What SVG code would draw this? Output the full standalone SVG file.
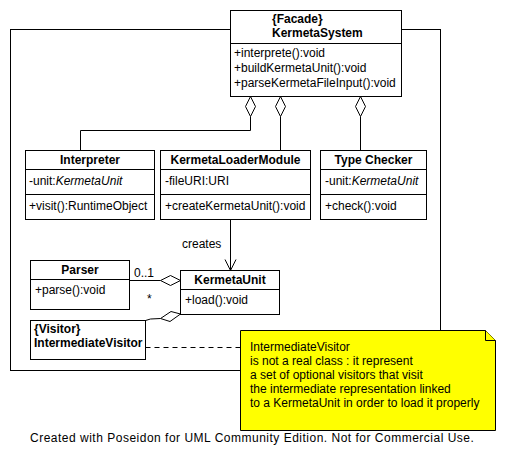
<svg xmlns="http://www.w3.org/2000/svg" width="506" height="461" viewBox="0 0 506 461">
<style>
text{font-family:"Liberation Sans",Arial,sans-serif;font-size:12px;fill:#000}
.b{font-weight:bold}
.c{text-anchor:middle}
.i{font-style:italic}
.box{fill:#fff;stroke:#000;stroke-width:1}
.ln{fill:none;stroke:#000;stroke-width:1}
.dia{fill:#fff;stroke:#000;stroke-width:1}
</style>
<rect width="506" height="461" fill="#fff"/>
<rect x="10.5" y="29.5" width="430" height="341" class="ln"/>
<g id="connectors">
<polyline class="ln" points="250.5,116.5 250.5,130.5 80.5,130.5 80.5,150.5"/>
<polygon class="dia" points="250.5,96.5 255.5,106.5 250.5,116.5 245.5,106.5"/>
<line class="ln" x1="280.5" y1="116.5" x2="280.5" y2="150.5"/>
<polygon class="dia" points="280.5,96.5 285.5,106.5 280.5,116.5 275.5,106.5"/>
<line class="ln" x1="360.5" y1="116.5" x2="360.5" y2="150.5"/>
<polygon class="dia" points="360.5,96.5 365.5,106.5 360.5,116.5 355.5,106.5"/>
<line class="ln" x1="230.5" y1="219.5" x2="230.5" y2="270.5"/>
<polyline class="ln" points="225,259.5 230.5,270.5 236,259.5"/>
<text x="182" y="248">creates</text>
<line class="ln" x1="129.5" y1="280.5" x2="160.5" y2="280.5"/>
<polygon class="dia" points="160.5,280.5 170.5,275.5 180.5,280.5 170.5,285.5"/>
<text x="134" y="277">0..1</text>
<text x="147" y="303">*</text>
<polyline class="ln" points="145.5,320.5 150.5,319 160.5,318.5"/>
<polygon class="dia" points="160.5,318.5 171,311.5 180.5,314 170,321.5"/>
<line class="ln" x1="145.5" y1="347.5" x2="240.5" y2="347.5" stroke-dasharray="5,4"/>
</g>
<g id="KermetaSystem">
<rect class="box" x="230.5" y="10.5" width="171" height="86"/>
<line class="ln" x1="230.5" y1="43.5" x2="401.5" y2="43.5"/>
<text class="b" x="272" y="23">{Facade}</text>
<text class="b" x="272" y="37">KermetaSystem</text>
<text x="234" y="57">+interprete():void</text>
<text x="234" y="72">+buildKermetaUnit():void</text>
<text x="234" y="87">+parseKermetaFileInput():void</text>
</g>
<g id="Interpreter">
<rect class="box" x="25.5" y="150.5" width="129" height="69"/>
<line class="ln" x1="25.5" y1="169.5" x2="154.5" y2="169.5"/>
<line class="ln" x1="25.5" y1="194.5" x2="154.5" y2="194.5"/>
<text class="b c" x="90" y="164">Interpreter</text>
<text x="29" y="185">-unit:<tspan class="i">KermetaUnit</tspan></text>
<text x="29" y="210">+visit():RuntimeObject</text>
</g>
<g id="KermetaLoaderModule">
<rect class="box" x="160.5" y="150.5" width="150" height="69"/>
<line class="ln" x1="160.5" y1="169.5" x2="310.5" y2="169.5"/>
<line class="ln" x1="160.5" y1="194.5" x2="310.5" y2="194.5"/>
<text class="b c" x="235.5" y="164">KermetaLoaderModule</text>
<text x="165" y="185">-fileURI:URI</text>
<text x="165" y="210">+createKermetaUnit():void</text>
</g>
<g id="TypeChecker">
<rect class="box" x="320.5" y="150.5" width="106" height="69"/>
<line class="ln" x1="320.5" y1="169.5" x2="426.5" y2="169.5"/>
<line class="ln" x1="320.5" y1="194.5" x2="426.5" y2="194.5"/>
<text class="b c" x="373.5" y="164">Type Checker</text>
<text x="325" y="185">-unit:<tspan class="i">KermetaUnit</tspan></text>
<text x="325" y="210">+check():void</text>
</g>
<g id="Parser">
<rect class="box" x="30.5" y="260.5" width="99" height="49"/>
<line class="ln" x1="30.5" y1="279.5" x2="129.5" y2="279.5"/>
<text class="b c" x="80" y="274">Parser</text>
<text x="35" y="294">+parse():void</text>
</g>
<g id="KermetaUnit">
<rect class="box" x="180.5" y="270.5" width="99" height="44"/>
<line class="ln" x1="180.5" y1="289.5" x2="279.5" y2="289.5"/>
<text class="b c" x="230" y="284">KermetaUnit</text>
<text x="185" y="304">+load():void</text>
</g>
<g id="IntermediateVisitor">
<rect class="box" x="30.5" y="320.5" width="115" height="39"/>
<text class="b" x="34" y="333">{Visitor}</text>
<text class="b" x="34" y="347">IntermediateVisitor</text>
</g>
<g id="Note">
<polygon points="240.5,330.5 485.5,330.5 495.5,340.5 495.5,430.5 240.5,430.5" fill="#ffff00" stroke="#000"/>
<polyline points="485.5,330.5 485.5,340.5 495.5,340.5" fill="#ffff00" stroke="#000"/>
<text x="250" y="351">IntermediateVisitor</text>
<text x="250" y="365">is not a real class : it represent</text>
<text x="250" y="379">a set of optional visitors that visit</text>
<text x="250" y="393">the intermediate representation linked</text>
<text x="250" y="407">to a KermetaUnit in order to load it properly</text>
</g>
<text x="30" y="442" letter-spacing="0.5">Created with Poseidon for UML Community Edition. Not for Commercial Use.</text>
</svg>
